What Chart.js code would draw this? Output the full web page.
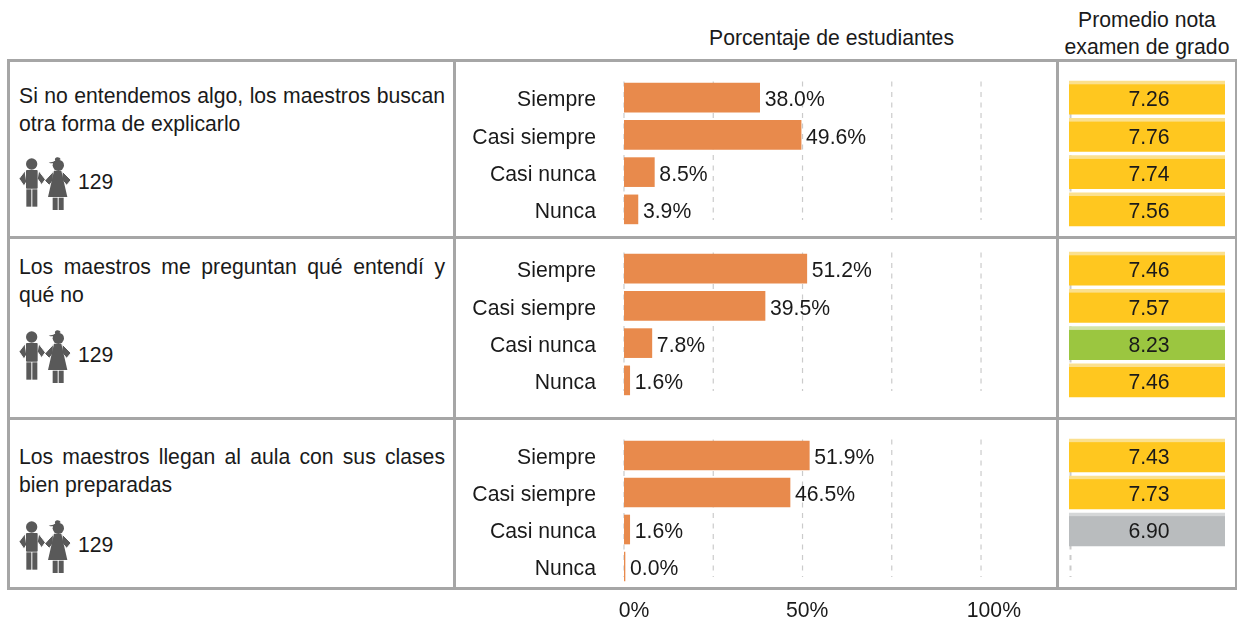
<!DOCTYPE html>
<html lang="es">
<head>
<meta charset="utf-8">
<title>Porcentaje de estudiantes</title>
<script src="https://cdn.jsdelivr.net/npm/chart.js@4/dist/chart.umd.min.js"></script>
<style>
html,body{margin:0;padding:0;background:#fff;}
body{width:1237px;height:620px;position:relative;overflow:hidden;font-family:"Liberation Sans",Arial,sans-serif;color:#1a1a1a;}
canvas{position:absolute;}
.line{position:absolute;background:#a6a6a6;}
.t{position:absolute;font-size:21.2px;line-height:27.5px;white-space:nowrap;}
.q{position:absolute;left:19px;width:426px;font-size:21.2px;line-height:27.5px;text-align:justify;}
svg{position:absolute;width:70px;height:70px;left:10px;}
</style>
</head>
<body>
<script>
const categories = ['Siempre', 'Casi siempre', 'Casi nunca', 'Nunca'];
const questions = [
  'Si no entendemos algo, los maestros buscan otra forma de explicarlo',
  'Los maestros me preguntan qué entendí y qué no',
  'Los maestros llegan al aula con sus clases bien preparadas'
];
const respondents = [129, 129, 129];
const percentQ1 = [38.0, 49.6, 8.5, 3.9];
const percentQ2 = [51.2, 39.5, 7.8, 1.6];
const percentQ3 = [51.9, 46.5, 1.6, 0.0];
const scoreQ1 = [7.26, 7.76, 7.74, 7.56];
const scoreQ2 = [7.46, 7.57, 8.23, 7.46];
const scoreQ3 = [7.43, 7.73, 6.90, null];
const axisTickLabels = ['0%', '50%', '100%'];
const axisTickValues = [0, 50, 100];
const headerPercent = 'Porcentaje de estudiantes';
const headerScore = ['Promedio nota', 'examen de grado'];

const FONT = '"Liberation Sans", Arial, sans-serif';
const FS = 21.2, INK = '#1a1a1a', ORANGE = '#E88A4C', GRID = '#cbcbcb';

/* frame */
function el(cls, css, text){
  const d = document.createElement('div');
  d.className = cls; d.style.cssText = css;
  if (text != null) d.textContent = text;
  document.body.appendChild(d); return d;
}
[[60],[237],[418],[588]].forEach(([y]) => el('line', `left:7px;width:1230px;top:${y-1.5}px;height:3px`));
[[8],[454],[1057],[1236]].forEach(([x]) => el('line', `left:${x-1.5}px;width:3px;top:59px;height:530px`));

/* headers */
el('t', 'left:709px;top:23.5px', headerPercent);
headerScore.forEach((s,i) => el('t', `left:1047px;width:200px;text-align:center;top:${5.5+i*27}px`, s));

/* left column */
const textTops = [82, 253, 443];
const iconTops = [150, 323, 513];
const countCentres = [182, 355, 545];
const iconSvg = `<g fill="#595959">
<polygon points="45,62 27,86 42,108 50,95" stroke="#fff" stroke-width="3"/><polygon points="86,62 106,88 95,104 82,86" stroke="#fff" stroke-width="3"/>
<circle cx="65" cy="42" r="17"/><rect x="48" y="60" width="35" height="56" rx="3"/>
<rect x="49" y="118" width="15" height="52"/><rect x="67" y="118" width="15" height="52"/>
<polygon points="130,64 104,92 118,106 130,90" stroke="#fff" stroke-width="3"/><polygon points="157,64 183,90 170,106 155,88" stroke="#fff" stroke-width="3"/>
<circle cx="145" cy="46" r="17"/><path d="M136 32c-6-12 14-14 16-4l-8 4c-4 6-14 10-28 6 8-2 14-3 20-6z"/>
<polygon points="132,62 154,62 172,141 114,141"/>
<rect x="128" y="143" width="15" height="37"/><rect x="146" y="143" width="15" height="37"/>
</g>`;
questions.forEach((q,i) => {
  el('q', `top:${textTops[i]}px`, q);
  const s = document.createElementNS('http://www.w3.org/2000/svg','svg');
  s.setAttribute('viewBox','0 0 210 210');
  s.style.top = iconTops[i] + 'px';
  s.innerHTML = iconSvg;
  document.body.appendChild(s);
  el('t', `left:78px;top:${countCentres[i]-13.75}px`, String(respondents[i]));
});

/* plugins: dashed grid and value labels, placed through the scales */
const dashGrid = {
  id: 'dashGrid',
  beforeDatasetsDraw(chart, args, o){
    const a = chart.chartArea, x = chart.scales.x, c = chart.ctx;
    c.save();
    c.strokeStyle = GRID; c.lineWidth = o.width; c.setLineDash([5, 5.5]);
    o.values.forEach(v => {
      const p = x.getPixelForValue(v) + o.dx;
      c.beginPath(); c.moveTo(p, a.top + o.top); c.lineTo(p, a.bottom - o.bottom); c.stroke();
    });
    c.restore();
  }
};
const valueLabels = {
  id: 'valueLabels',
  afterDatasetsDraw(chart, args, o){
    const c = chart.ctx, meta = chart.getDatasetMeta(0), data = o.values;
    c.save();
    c.font = `${FS}px ${FONT}`; c.fillStyle = INK; c.textBaseline = 'middle';
    c.textAlign = o.center ? 'center' : 'left';
    meta.data.forEach((b,i) => {
      if (data[i] == null) return;
      const txt = o.center ? data[i].toFixed(2) : data[i].toFixed(1) + '%';
      const px = o.center ? (b.x + b.base) / 2 + 2 : b.x + 5;
      c.fillText(txt, px, b.y + 3);
    });
    c.restore();
  }
};

function addCanvas(left, top, w, h){
  const cv = document.createElement('canvas');
  cv.width = w; cv.height = h;
  cv.style.cssText = `left:${left}px;top:${top}px;width:${w}px;height:${h}px`;
  document.body.appendChild(cv);
  return cv;
}

function percentChart(values, top, areaH, withAxis){
  const h = withAxis ? areaH + 35 : areaH;
  const scales = {
    x: { type:'linear', min:0, max:121, display:false,
         afterBuildTicks: s => { s.ticks = s.ticks.filter(t => t.value <= 100 && t.value % 25 === 0); },
         ticks:{ stepSize:25 } },
    y: { type:'category', offset:true,
         afterFit: s => { s.width = 168; s.paddingTop = 0; s.paddingBottom = 0; },
         grid:{ display:false, drawTicks:false }, border:{ display:false },
         ticks:{ padding:28, labelOffset:3, color:INK, autoSkip:false, font:{ family:FONT, size:FS } } }
  };
  if (withAxis) {
    const nudge = [2.8, 1.3, 3.6];
    scales.xt = { type:'linear', position:'bottom', min:0, max:121,
      afterBuildTicks: s => { s.ticks = axisTickValues.map((v,i) => ({ value: v + nudge[i] })); },
      afterFit: s => { s.height = 35; s.paddingLeft = 0; s.paddingRight = 0; },
      grid:{ display:false, drawTicks:false }, border:{ display:false },
      ticks:{ padding:13, color:INK, autoSkip:false, maxRotation:0,
              callback:(v,i) => axisTickLabels[i], font:{ family:FONT, size:FS } } };
  }
  return new Chart(addCanvas(456, top, 600, h), {
    type:'bar',
    data:{ labels:categories, datasets:[{ data:values, xAxisID:'x', yAxisID:'y', backgroundColor:ORANGE,
           barThickness:29, minBarLength:1, borderWidth:0 }] },
    options:{ indexAxis:'y', responsive:false, animation:false,
      layout:{ padding:0 }, scales,
      plugins:{ legend:{ display:false }, tooltip:{ enabled:false }, title:{ display:false },
        dashGrid:{ values:[0,25,50,75,100], top:2.5, bottom:8, width:1.2, dx:0 },
        valueLabels:{ values } } },
    plugins:[dashGrid, valueLabels]
  });
}

const CELL = { yellow:['#FFC71F','#FBE08E'], green:['#9BC640','#D3E4A9'], grey:['#B9BCBE','#D5D7D8'] };
function cellKey(v){ return v < 7 ? 'grey' : v >= 8 ? 'green' : 'yellow'; }

function scoreChart(values, top, areaH){
  return new Chart(addCanvas(1059, top, 176, areaH), {
    type:'bar',
    data:{ labels:categories, datasets:[{ data:values.map(v => v == null ? null : 1), backgroundColor:(ctx) => {
        const v = values[ctx.dataIndex];
        if (v == null) return 'rgba(0,0,0,0)';
        const [main, hi] = CELL[cellKey(v)];
        const yc = ctx.chart.scales.y ? ctx.chart.scales.y.getPixelForValue(ctx.dataIndex) : NaN;
        if (!isFinite(yc)) return main;
        const g = ctx.chart.ctx.createLinearGradient(0, yc-16.5, 0, yc+16.5);
        g.addColorStop(0, hi); g.addColorStop(0.085, hi); g.addColorStop(0.11, main); g.addColorStop(1, main);
        return g;
      }, barThickness:33, borderWidth:0 }] },
    options:{ indexAxis:'y', responsive:false, animation:false,
      layout:{ padding:{ left:10, right:10 } },
      scales:{ x:{ type:'linear', min:0, max:1, display:false },
               y:{ type:'category', display:false, offset:true } },
      plugins:{ legend:{ display:false }, tooltip:{ enabled:false },
        dashGrid:{ values:[0], top:2.5, bottom:8, width:2, dx:1.5 },
        valueLabels:{ values, center:true } } },
    plugins:[dashGrid, valueLabels]
  });
}

percentChart(percentQ1, 79, 149, false);
percentChart(percentQ2, 250, 149, false);
percentChart(percentQ3, 437, 148, true);
scoreChart(scoreQ1, 79, 149);
scoreChart(scoreQ2, 250, 149);
scoreChart(scoreQ3, 437, 148);
</script>
</body>
</html>
